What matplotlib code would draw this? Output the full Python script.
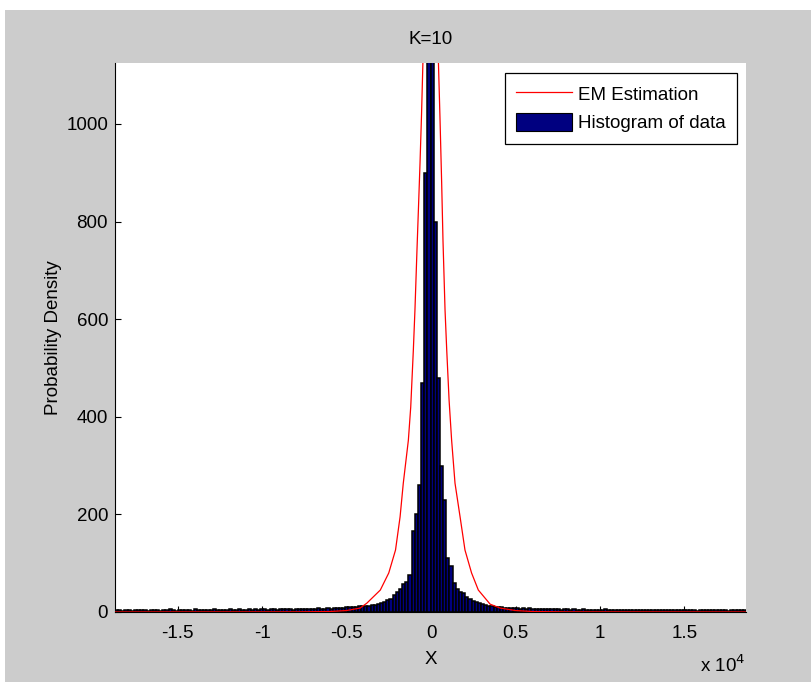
import numpy as np
import matplotlib
matplotlib.use("Agg")
import matplotlib.pyplot as plt
from matplotlib.patches import Patch, Rectangle

plt.rcParams['font.family'] = ['Liberation Sans', 'DejaVu Sans']

# ---------------- data ----------------
x_min, x_max = -18700, 18640
n_bins = 200

left_tail = [4, 5, 3, 4, 5, 3, 4, 5, 4, 5,
             3, 5, 4, 4, 3, 5, 4, 6, 4, 3,
             5, 4, 5, 4, 3, 6, 4, 4, 5, 4,
             5, 6, 4, 4, 5, 5, 6, 4, 5, 6,
             5, 4, 6, 5, 6, 5, 6, 6, 5, 6,
             6, 5, 6, 7, 6, 6, 5, 7, 6, 7,
             6, 7, 7, 6, 8, 7, 7, 8, 7, 8]
center = [8, 9, 9, 10, 10, 11, 11, 12, 12, 13,
          13, 14, 15, 17, 19, 21, 24, 27, 35, 40,
          48, 57, 62, 75, 165, 200, 260, 470, 900, 1400,
          1700, 800, 480, 300, 230, 110, 95, 60, 47, 42,
          38, 30, 26, 22, 20, 18, 16, 14, 13, 12,
          11, 10, 10, 9, 9, 8, 8, 8, 7, 8]
right_tail = [7, 8, 7, 7, 6, 7, 6, 7, 6, 6,
              6, 5, 6, 6, 5, 6, 5, 5, 6, 5,
              5, 5, 4, 5, 5, 6, 5, 4, 5, 5,
              4, 5, 5, 4, 5, 4, 5, 4, 4, 5,
              5, 4, 4, 5, 4, 4, 5, 4, 4, 5,
              4, 4, 5, 4, 3, 4, 5, 4, 4, 4,
              4, 5, 4, 4, 3, 4, 4, 5, 4, 4]
hist_counts = left_tail + center + right_tail

em_x = [-18700, -8000, -6000, -5000, -4200, -3800, -3000, -2500, -2100,
        -1830, -1640, -1340, -1200, -1045, -950, -830, -740, -650, -560,
        -480, -300, -150, 0, 150, 300, 440, 530, 630, 710, 830, 930, 1070,
        1220, 1420, 1720, 2010, 2400, 2800, 3500, 4100, 5000, 6000, 8000, 18640]
em_y = [0, 0.2, 1, 3, 8, 18, 45, 80, 127,
        195, 264, 352, 420, 537, 619, 742, 830, 920, 1020,
        1125, 1450, 1800, 2000, 1800, 1450, 1125, 1014, 880, 760, 619, 537, 434,
        352, 264, 195, 127, 80, 45, 16, 8, 3, 1, 0.2, 0]

x_ticks = [-15000, -10000, -5000, 0, 5000, 10000, 15000]
x_tick_labels = ['-1.5', '-1', '-0.5', '0', '0.5', '1', '1.5']
y_ticks = [0, 200, 400, 600, 800, 1000]

# ---------------- figure ----------------
W, H = 811, 682
FS = 13.5
fig = plt.figure(figsize=(W / 100, H / 100), dpi=100, facecolor='white')
fig.patches.append(Rectangle((5 / W, 0), 1, (H - 10) / H, transform=fig.transFigure,
                             facecolor='#cccccc', edgecolor='none', zorder=-10))

ax = fig.add_axes([115 / W, (H - 612) / H, (746 - 115) / W, (612 - 63) / H])
ax.set_facecolor('white')

edges = np.linspace(x_min, x_max, n_bins + 1)
ax.bar(edges[:-1], hist_counts, width=np.diff(edges), align='edge',
       facecolor='#000080', edgecolor='black', linewidth=1.1, zorder=2)
ax.plot(em_x, em_y, color='red', linewidth=0.9, zorder=3)

ax.set_xlim(x_min, x_max)
ax.set_ylim(0, 1125)
ax.set_xticks(x_ticks)
ax.set_xticklabels(x_tick_labels)
ax.set_yticks(y_ticks)

for s in ['top', 'right']:
    ax.spines[s].set_visible(False)
for s in ['left', 'bottom']:
    ax.spines[s].set_linewidth(0.8)
    ax.spines[s].set_color('black')
ax.tick_params(direction='in', length=4.3, width=0.8, labelsize=FS)
ax.tick_params(axis='x', pad=9)
ax.tick_params(axis='y', pad=5)

ax.set_title('K=10', fontsize=FS, pad=14)
ax.set_xlabel('X', fontsize=FS, labelpad=7)
ax.set_ylabel('Probability Density', fontsize=FS, labelpad=3)

fig.text(700 / W, 1 - 665 / H, r'x 10$^{4}$', fontsize=FS, va='center', ha='left')

handles = [plt.Line2D([], [], color='red', linewidth=0.9),
           Patch(facecolor='#000080', edgecolor='black', linewidth=0.8)]
leg = ax.legend(handles, ['EM Estimation', 'Histogram of data'], loc='upper right',
                bbox_to_anchor=(0.986, 0.982), fontsize=FS, frameon=True, fancybox=False,
                edgecolor='black', framealpha=1, handlelength=3.0, handleheight=1.1,
                handletextpad=0.32, labelspacing=0.5, borderpad=0.6, borderaxespad=0)
leg.get_frame().set_linewidth(0.9)

fig.savefig('out.png', dpi=100, facecolor=fig.get_facecolor())
